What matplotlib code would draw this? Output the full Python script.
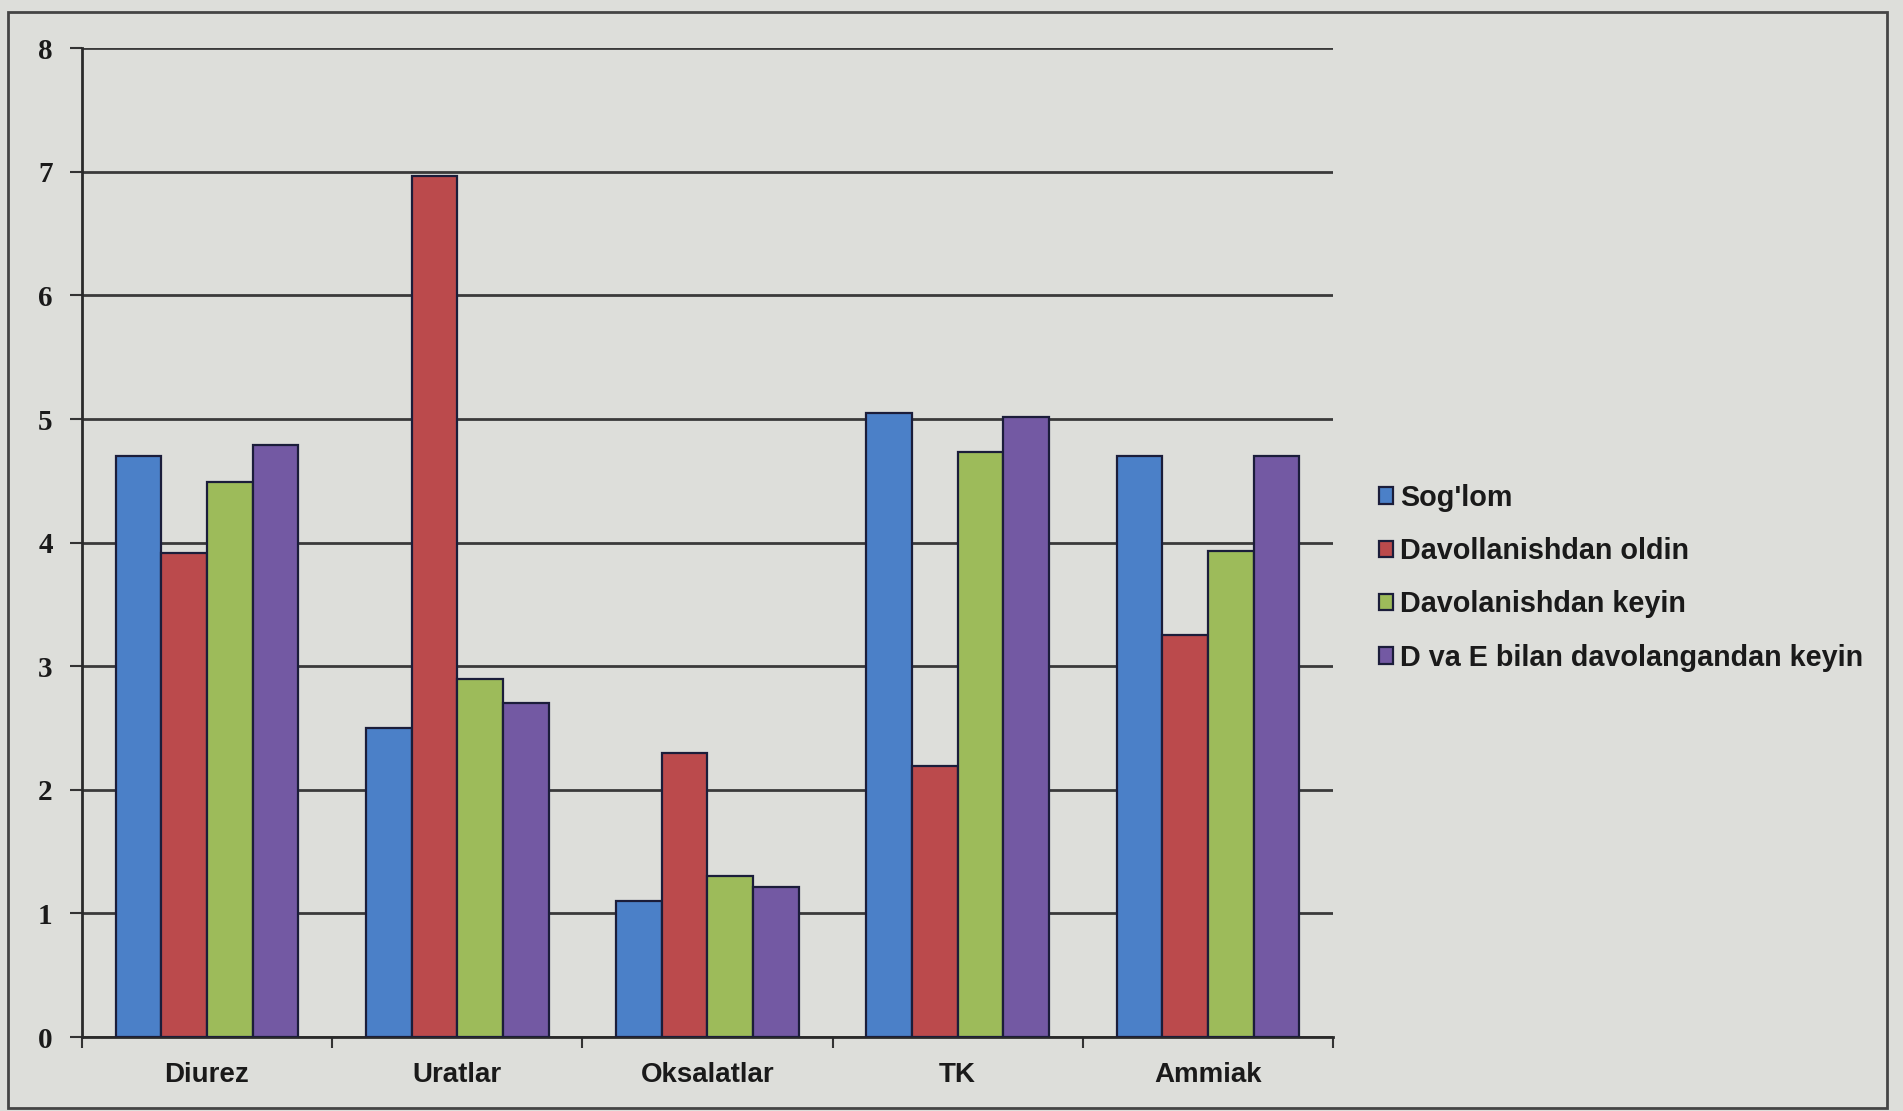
import matplotlib
matplotlib.use("Agg")
import matplotlib.pyplot as plt
from matplotlib import font_manager
from matplotlib.patches import Rectangle
import numpy as np

categories = ["Diurez", "Uratlar", "Oksalatlar", "TK", "Ammiak"]
series_names = ["Sog'lom", "Davollanishdan oldin", "Davolanishdan keyin",
                "D va E bilan davolangandan keyin"]
sog_lom = [4.70, 2.50, 1.10, 5.05, 4.70]
davol_oldin = [3.92, 6.97, 2.30, 2.19, 3.25]
davol_keyin = [4.49, 2.90, 1.30, 4.73, 3.93]
de_keyin = [4.79, 2.70, 1.21, 5.02, 4.70]
y_ticks = [0, 1, 2, 3, 4, 5, 6, 7, 8]

series_values = [sog_lom, davol_oldin, davol_keyin, de_keyin]
colors = ["#4b80c8", "#bb4a4c", "#9dbb5a", "#7359a3"]

available = {f.name for f in font_manager.fontManager.ttflist}
sans = "Liberation Sans Narrow" if "Liberation Sans Narrow" in available else "Liberation Sans"
serif = "Liberation Serif" if "Liberation Serif" in available else "DejaVu Serif"

bg = "#dddeda"
fig = plt.figure(figsize=(19.03, 11.11), dpi=100, facecolor=bg)
ax = fig.add_axes([0.043, 0.0666, 0.6575, 0.890])
ax.set_facecolor(bg)

n = len(series_values)
group_w = 0.73
bar_w = group_w / n
x = np.arange(len(categories))
for i, (vals, col, name) in enumerate(zip(series_values, colors, series_names)):
    offs = (i - (n - 1) / 2) * bar_w
    ax.bar(x + offs, vals, width=bar_w, color=col, edgecolor="#1b1d3a",
           linewidth=1.6, label=name, zorder=3)

ax.set_xlim(-0.5, len(categories) - 0.5)
ax.set_ylim(0, 8)
ax.set_yticks(y_ticks)
ax.set_yticklabels([str(t) for t in y_ticks], fontfamily=serif,
                   fontweight="bold", fontsize=21, color="#1a1a1a")
ax.yaxis.grid(True, color="#3a3a3a", linewidth=2.0, zorder=0)
ax.set_axisbelow(True)

ax.set_xticks(x)
ax.set_xticklabels(categories, fontfamily=sans, fontweight="bold",
                   fontsize=20, color="#1a1a1a")
ax.tick_params(axis="x", length=0, pad=18)
ax.set_xticks(np.arange(-0.5, len(categories)), minor=True)
ax.tick_params(axis="x", which="minor", length=8, width=1.5, color="#333333")
ax.tick_params(axis="y", length=9, width=1.5, color="#333333", pad=12)

for side in ["top", "right"]:
    ax.spines[side].set_visible(False)
for side in ["left", "bottom"]:
    ax.spines[side].set_color("#2a2a2a")
    ax.spines[side].set_linewidth(2.0)

leg = fig.legend(loc="center left", bbox_to_anchor=(0.711, 0.480),
                 frameon=False, handlelength=0.5, handleheight=0.5,
                 handletextpad=0.25, labelspacing=0.88,
                 prop={"family": sans, "weight": "bold", "size": 20.7})
for t in leg.get_texts():
    t.set_color("#1a1a1a")

# outer chart border
fig.patches.append(Rectangle((8 / 1903, 3 / 1111), 1879 / 1903, 1096 / 1111,
                             transform=fig.transFigure, fill=False,
                             edgecolor="#444444", linewidth=2.0))

fig.savefig("out.png", dpi=100, facecolor=bg)
